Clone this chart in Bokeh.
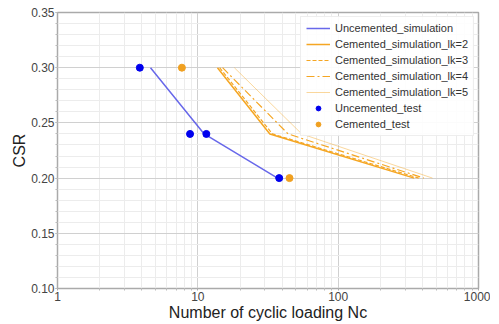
from bokeh.plotting import figure
from bokeh.models import FixedTicker, PrintfTickFormatter, Legend, LegendItem
from bokeh.embed import file_html
from bokeh.resources import INLINE

# Data
unc_sim_x = [4.6, 11.1, 37]
unc_sim_y = [0.30, 0.24, 0.20]
cem2_x = [13.8, 32.6, 348]
cem3_x = [14.3, 34.0, 375]
cem4_x = [15.0, 44.0, 407]
cem5_x = [18.2, 55.0, 470]
cem_y = [0.30, 0.24, 0.20]
unc_test_x = [3.86, 8.8, 11.5, 38]
unc_test_y = [0.30, 0.24, 0.24, 0.20]
cem_test_x = [7.7, 45]
cem_test_y = [0.30, 0.20]

x_ticks = [1, 10, 100, 1000]
y_ticks = [0.10, 0.15, 0.20, 0.25, 0.30, 0.35]

FONT = "Liberation Sans"
ORANGE = "#f5a623"

p = figure(width=490, height=323, x_axis_type="log", x_range=(1, 1000), y_range=(0.10, 0.35),
           output_backend="svg", toolbar_location=None,
           min_border_left=57, min_border_right=12, min_border_top=12, min_border_bottom=24)

l_unc = p.line(unc_sim_x, unc_sim_y, line_color="#4d4de6", line_width=1.5, line_alpha=0.85)
l2 = p.line(cem2_x, cem_y, line_color=ORANGE, line_width=1.5)
l3 = p.line(cem3_x, cem_y, line_color=ORANGE, line_width=1.2, line_dash="4 2")
l4 = p.line(cem4_x, cem_y, line_color=ORANGE, line_width=1.2, line_dash="8 3 2 3")
l5 = p.line(cem5_x, cem_y, line_color=ORANGE, line_width=1.0, line_alpha=0.45)
c_unc = p.scatter(unc_test_x, unc_test_y, size=7, fill_color="#0000ee", line_color="#0000ee")
c_cem = p.scatter(cem_test_x, cem_test_y, size=7, fill_color="#f0a020", line_color="#f0a020")

p.xaxis.ticker = FixedTicker(ticks=x_ticks,
                             minor_ticks=[m * d for d in [1, 10, 100] for m in range(2, 10)])
p.xaxis.formatter = PrintfTickFormatter(format="%d")
p.yaxis.ticker = FixedTicker(ticks=y_ticks, minor_ticks=[round(0.10 + 0.01 * i, 2) for i in range(26)])
p.yaxis.formatter = PrintfTickFormatter(format="%.2f")

p.xaxis.axis_label = "Number of cyclic loading Nc"
p.yaxis.axis_label = "CSR"
for ax in (p.xaxis, p.yaxis):
    ax.axis_label_text_font = FONT
    ax.axis_label_text_font_style = "normal"
    ax.axis_label_text_font_size = "16px"
    ax.axis_label_text_color = "#222222"
    ax.major_label_text_font = FONT
    ax.major_label_text_font_size = "12px"
    ax.major_label_text_color = "#444444"
    ax.axis_line_color = None
    ax.major_tick_line_color = "#aaaaaa"
    ax.major_tick_out = 2
    ax.major_tick_in = 0
    ax.minor_tick_line_color = "#bbbbbb"
    ax.minor_tick_out = 2
    ax.minor_tick_in = 0
    ax.axis_label_standoff = 0
    ax.major_label_standoff = 1

p.grid.grid_line_color = "#d0d0d0"
p.grid.minor_grid_line_color = "#ececec"
p.outline_line_color = "#aaaaaa"
p.outline_line_width = 1.5

legend = Legend(items=[
    LegendItem(label="Uncemented_simulation", renderers=[l_unc]),
    LegendItem(label="Cemented_simulation_lk=2", renderers=[l2]),
    LegendItem(label="Cemented_simulation_lk=3", renderers=[l3]),
    LegendItem(label="Cemented_simulation_lk=4", renderers=[l4]),
    LegendItem(label="Cemented_simulation_lk=5", renderers=[l5]),
    LegendItem(label="Uncemented_test", renderers=[c_unc]),
    LegendItem(label="Cemented_test", renderers=[c_cem]),
], location="top_right")
legend.label_text_font = FONT
legend.label_text_font_size = "11px"
legend.label_text_color = "#333333"
legend.label_height = 12
legend.glyph_height = 12
legend.glyph_width = 24
legend.spacing = 4
legend.padding = 5
legend.margin = 4
legend.border_line_color = "#dddddd"
legend.background_fill_alpha = 0.9
p.add_layout(legend)

open("out.html", "w").write(file_html(p, INLINE))
